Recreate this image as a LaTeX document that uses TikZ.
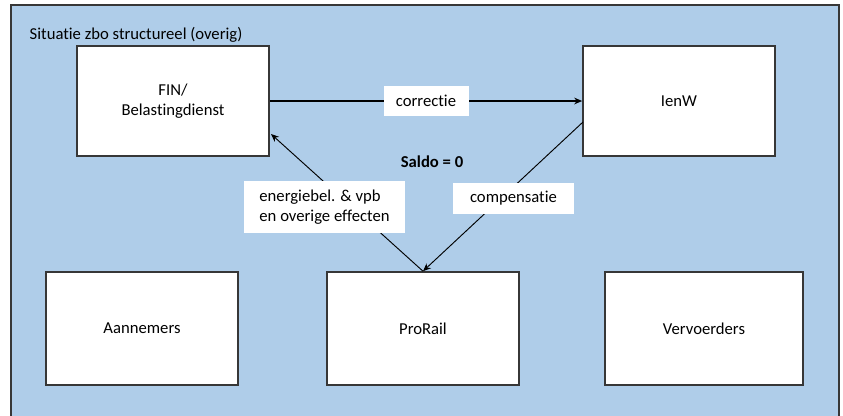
\documentclass[tikz,border=0pt]{standalone}
\usepackage{fontspec}
\setmainfont{Carlito}[Ligatures=NoCommon]
\usetikzlibrary{arrows.meta}
\definecolor{zboblue}{RGB}{175,205,233}
\definecolor{boxline}{RGB}{55,55,55}
\tikzset{>={Stealth[length=6pt, width=5pt]}}
\tikzset{
  partij/.style={draw=boxline, line width=1.2pt, fill=white, minimum width=144pt, minimum height=82.5pt, font=\fontsize{12.5}{15}\selectfont, align=center},
  stroom/.style={fill=white, inner sep=0pt, font=\fontsize{12.5}{15}\selectfont}
}

\begin{document}
\begin{tikzpicture}[x=0.75pt, y=-0.75pt]
    \useasboundingbox (0,0) rectangle (843,415);
    \clip (0,0) rectangle (843,415);
    \draw[boxline, line width=1pt, fill=zboblue] (11,5) rectangle (839,425);
    \node[anchor=west, font=\fontsize{12.5}{15}\selectfont] (titel) at (25,35) {Situatie zbo structureel (overig)};

    \node[partij] (fin) at (173,101) {FIN/\\Belastingdienst};
    \node[partij] (ienw) at (679,101) {IenW};
    \node[partij, minimum height=84.75pt] (aannemers) at (142,328.5) {Aannemers};
    \node[partij, minimum height=84.75pt] (prorail) at (423,328.5) {ProRail};
    \node[partij, minimum width=148.5pt, minimum height=84.75pt] (vervoerders) at (704,328.5) {Vervoerders};

    \node[font=\bfseries\fontsize{12.5}{15}\selectfont] (saldo) at (432,162) {Saldo = 0};

    \coordinate (finhoek) at (271,134);
    \coordinate (ienwzij) at (583,122);
    \draw[->, line width=1.2pt] (fin.east |- 0,101) -- (ienw.west |- 0,101)
        node[stroom, pos=0.5, minimum width=63.75pt, minimum height=22.5pt] (correctie) {correctie};
    \draw[->, line width=0.7pt] (prorail.north) -- (finhoek);
    \draw[->, line width=0.7pt] (ienwzij) -- (prorail.north);
    \node[stroom, minimum width=120.75pt, minimum height=39pt, align=left] (energie) at (324.5,207) {energiebel. \& vpb\\en overige effecten};
    \node[stroom, minimum width=90.75pt, minimum height=23.25pt] (compensatie) at (513.5,198.5) {compensatie};
\end{tikzpicture}
\end{document}
